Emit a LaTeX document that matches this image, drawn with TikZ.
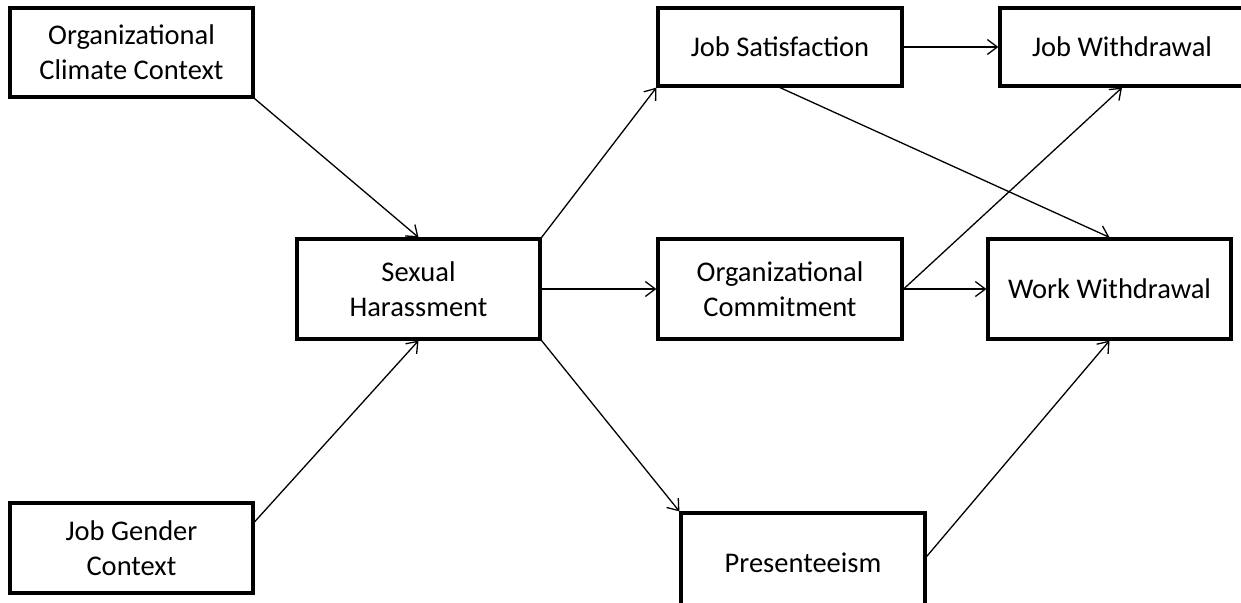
\documentclass[tikz,border=0pt]{standalone}
\usepackage{fontspec}
\setmainfont{Carlito}
\usetikzlibrary{arrows.meta}
\begin{document}
\begin{tikzpicture}[x=1pt,y=-1pt,
  box/.style={draw, line width=3.2pt, rectangle, inner sep=0pt, align=center,
    font=\fontsize{28.5}{35}\selectfont},
  link/.style={line width=1.3pt, -{Straight Barb[length=10pt,width=15pt,line width=1.3pt]}}]
\useasboundingbox (0,0) rectangle (1241,602);
\clip (0,0) rectangle (1241,602);
\fill[white] (0,0) rectangle (1241,602);

% antecedents
\node[box, minimum width=243pt, minimum height=89pt] (occ) at (131.5,52.5) {Organizational\\Climate Context};
\node[box, minimum width=243pt, minimum height=90pt] (jgc) at (131.5,548) {Job Gender\\Context};

% central construct
\node[box, minimum width=243pt, minimum height=100pt] (sh) at (418.5,289) {Sexual\\Harassment};

% mediators
\node[box, minimum width=244pt, minimum height=78pt] (js) at (780,47) {Job Satisfaction};
\node[box, minimum width=244pt, minimum height=100pt] (oc) at (780,289) {Organizational\\Commitment};
\node[box, minimum width=244pt, minimum height=100pt] (pr) at (803,563) {Presenteeism};

% outcomes
\node[box, minimum width=244pt, minimum height=78pt] (jw) at (1122,47) {Job Withdrawal};
\node[box, minimum width=243pt, minimum height=100pt] (ww) at (1109.5,289) {Work Withdrawal};

% paths
\draw[link] (occ.south east) -- (sh.north);
\draw[link] (jgc.12) -- (sh.south);
\draw[link] (sh.north east) -- (js.south west);
\draw[link] (sh.east) -- (oc.west);
\draw[link] (sh.south east) -- (pr.north west);
\draw[link] (js.east) -- (jw.west);
\draw[link] (js.south) -- (ww.north);
\draw[link] (oc.east) -- (jw.south);
\draw[link] (oc.east) -- (ww.west);
\draw[link] (pr.3) -- (ww.south);
\end{tikzpicture}
\end{document}
